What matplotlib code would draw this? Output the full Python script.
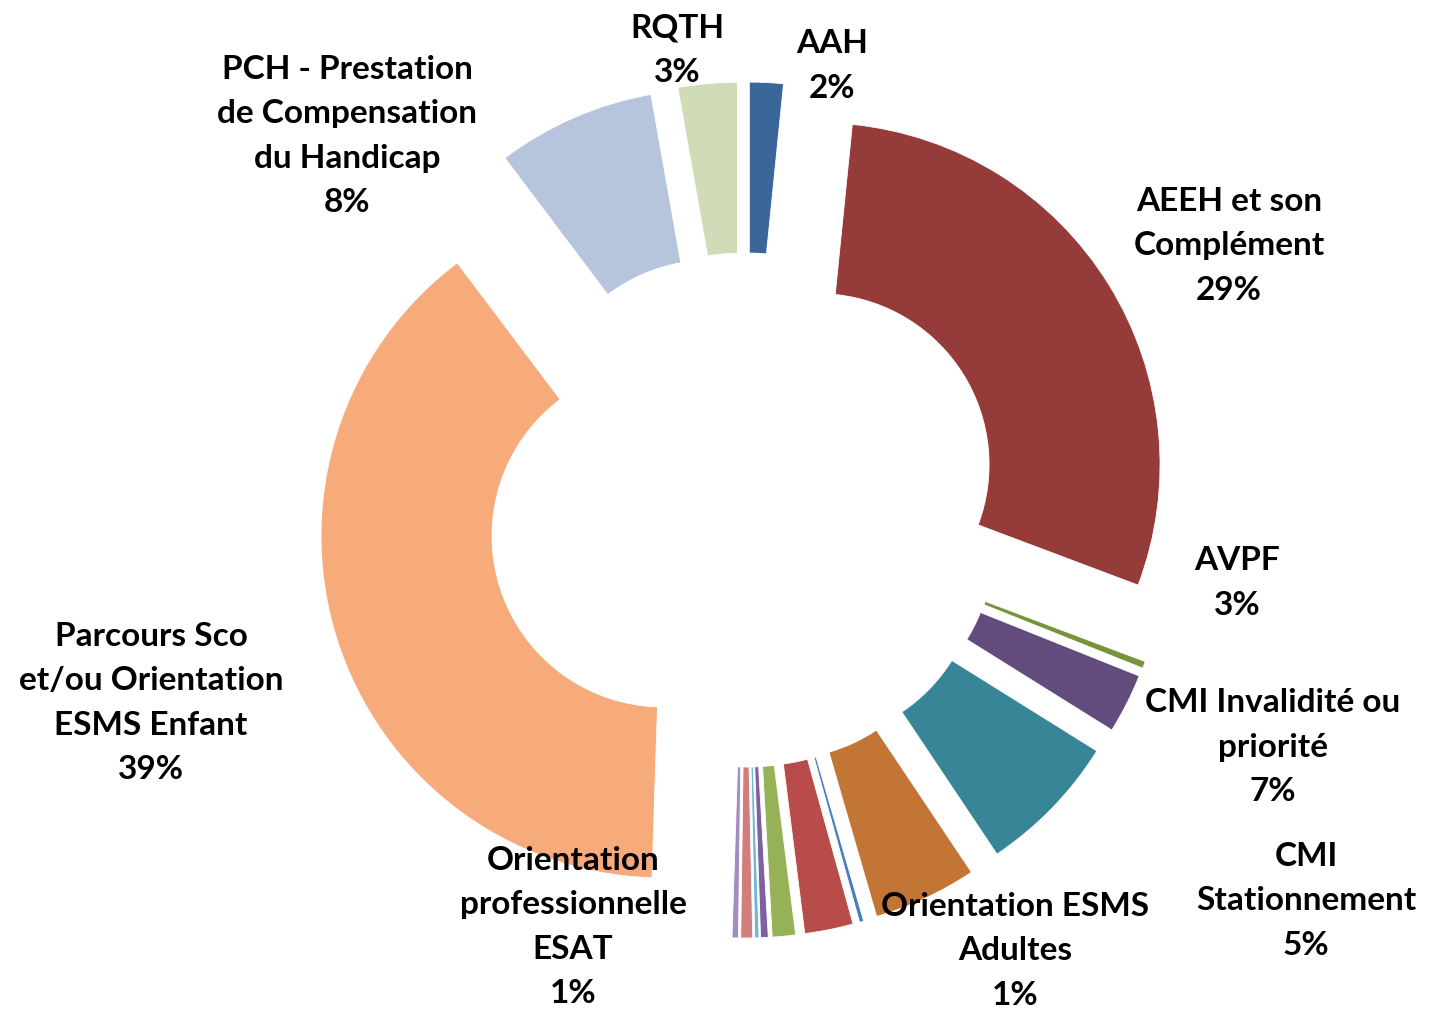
import matplotlib
matplotlib.use("Agg")
import matplotlib.pyplot as plt

W, H = 1429, 1011

# slices clockwise from 12 o'clock (values in % of total)
categories = ["AAH", "AEEH et son Complément", "", "AVPF", "CMI Invalidité ou priorité",
              "CMI Stationnement", "", "", "", "", "", "", "",
              "Parcours Sco et/ou Orientation ESMS Enfant",
              "PCH - Prestation de Compensation du Handicap", "RQTH"]
values = [1.6, 29.2, 0.33, 2.83, 6.75, 4.9, 0.2, 2.3, 1.1, 0.36, 0.2, 0.56, 0.3, 39.3, 7.5, 2.8]
colors = ["#3B6699", "#953C3B", "#77933C", "#634C7D", "#388598", "#C37535",
          "#4A7EBB", "#B84C4A", "#95B356", "#7E619F", "#6FB8D0", "#D07D7B", "#A18DBF",
          "#F8AB7A", "#B6C4DE", "#CFDCB7"]

# data labels as shown in the chart
label_texts = ["RQTH\n3%", "AAH\n2%", "PCH - Prestation\nde Compensation\ndu Handicap\n8%",
               "AEEH et son\nComplément\n29%", "AVPF\n3%", "CMI Invalidité ou\npriorité\n7%",
               "CMI\nStationnement\n5%", "Orientation ESMS\nAdultes\n1%",
               "Orientation\nprofessionnelle\nESAT\n1%",
               "Parcours Sco\net/ou Orientation\nESMS Enfant\n39%"]
# label block centres, pixel coords
label_pos = [(677, 50), (832, 66), (347, 136), (1229, 246), (1237, 583), (1273, 747),
             (1306, 901), (1015, 951), (573, 927), (151, 703)]


def px(x, y):
    return x, H - y


fig = plt.figure(figsize=(W / 100, H / 100), dpi=100)
ax = fig.add_axes([0, 0, 1, 1])

radius = 342
ax.pie(values, colors=colors, startangle=90, counterclock=False,
       radius=radius, center=px(745, 510), explode=[86] * len(values),
       wedgeprops=dict(width=171, edgecolor="white", linewidth=0.6), frame=False)

for txt, (x, y) in zip(label_texts, label_pos):
    ax.text(*px(x, y), txt, ha="center", va="center", multialignment="center",
            fontsize=24, fontweight="bold", family=["Lato", "DejaVu Sans"],
            linespacing=1.65, color="black")

ax.set_xlim(0, W)
ax.set_ylim(0, H)
ax.set_aspect("equal")
ax.axis("off")

fig.savefig("out.png", dpi=100, facecolor="white")
